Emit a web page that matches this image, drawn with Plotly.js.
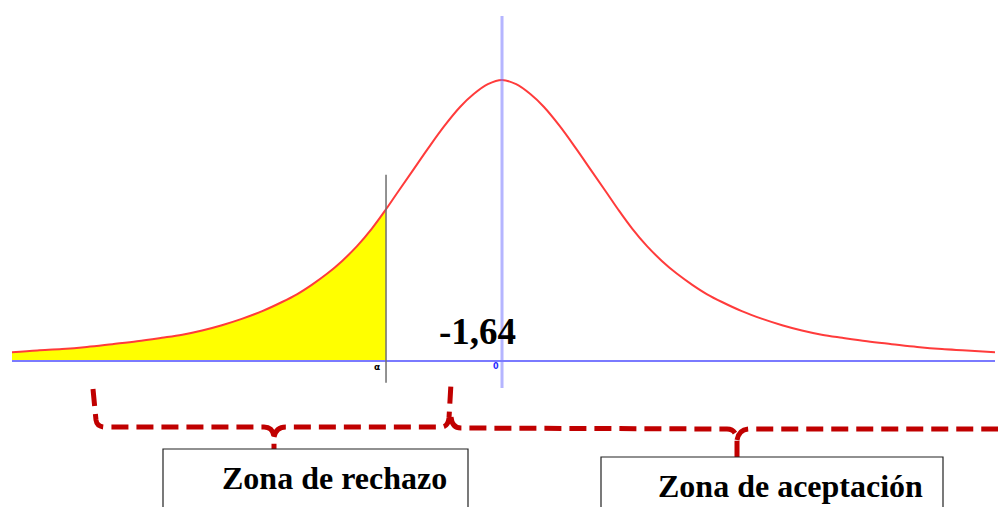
<!DOCTYPE html>
<html>
<head>
<meta charset="utf-8">
<script src="https://cdn.plot.ly/plotly-3.0.1.min.js"></script>
<style>
  html, body { margin: 0; padding: 0; background: #fff; }
  #plot { width: 998px; height: 507px; }
</style>
</head>
<body>
<div id="plot"></div>
<script>
// curve (z units, density scaled so the peak is 0.4)
var zVals = [-6.93, -6.57, -6.22, -5.87, -5.51, -5.16, -4.81, -4.52, -4.24, -3.96, -3.68,
  -3.39, -3.11, -2.9, -2.69, -2.47, -2.26, -2.05, -1.84, -1.64, -1.47, -1.27, -1.05,
  -0.82, -0.59, -0.4, -0.2, 0, 0.2, 0.4, 0.59, 0.82, 1.05, 1.27, 1.47, 1.64, 1.84,
  2.05, 2.26, 2.47, 2.69, 2.9, 3.11, 3.39, 3.68, 3.96, 4.24, 4.52, 4.81, 5.16, 5.51,
  5.87, 6.22, 6.57, 6.97];
var densVals = [0.0124, 0.015, 0.017, 0.02, 0.024, 0.028, 0.033, 0.0375, 0.0435, 0.051, 0.06,
  0.071, 0.084, 0.095, 0.1085, 0.1245, 0.1425, 0.1635, 0.1885, 0.216, 0.241, 0.27, 0.302,
  0.334, 0.362, 0.38, 0.394, 0.4, 0.394, 0.38, 0.362, 0.334, 0.302, 0.27, 0.241, 0.216, 0.1885,
  0.1635, 0.1425, 0.1245, 0.1085, 0.095, 0.084, 0.071, 0.06, 0.051, 0.0435, 0.0375, 0.033, 0.028, 0.024,
  0.02, 0.017, 0.015, 0.0124];

var critical = -1.64;
var criticalLabel = "-1,64";
var zoneLabels = ["Zona de rechazo", "Zona de aceptación"];

// rejection region = points left of the critical value
var rejX = [], rejY = [];
for (var i = 0; i < zVals.length; i++) {
  if (zVals[i] <= critical) { rejX.push(zVals[i]); rejY.push(densVals[i]); }
}

var W = 998, H = 507;
var mL = 12, mR = 3, mT = 16, mB = 119;
var pw = W - mL - mR, ph = H - mT - mB;
function px(x) { return (x - mL) / pw; }
function py(y) { return 1 - (y - mT) / ph; }
function path(pts) {
  return pts.map(function (p) {
    var s = p[0];
    for (var k = 1; k < p.length; k += 2) s += " " + px(p[k]).toFixed(5) + "," + py(p[k + 1]).toFixed(5);
    return s;
  }).join(" ");
}

var fillTrace = {
  x: rejX, y: rejY, type: "scatter", mode: "lines",
  line: { shape: "spline", width: 0, color: "#ffff00" },
  fill: "tozeroy", fillcolor: "#ffff00", hoverinfo: "skip"
};
var curve = {
  x: zVals, y: densVals, type: "scatter", mode: "lines",
  line: { shape: "spline", width: 2, color: "#ff3b3b" }
};

var red = "#c00000";
var dashed = { color: red, width: 5, dash: "17px,8px" };

var layout = {
  width: W, height: H,
  margin: { l: mL, r: mR, t: mT, b: mB, pad: 0 },
  paper_bgcolor: "#fff", plot_bgcolor: "#fff",
  showlegend: false,
  xaxis: { range: [-6.928, 6.97], showgrid: false, zeroline: false, showticklabels: false, showline: false, ticks: "" },
  yaxis: { range: [-0.0384, 0.4911], showgrid: false, zeroline: false, showticklabels: false, showline: false, ticks: "" },
  shapes: [
    // horizontal axis
    { type: "line", xref: "paper", yref: "y", x0: 0, x1: 1, y0: 0, y1: 0,
      line: { color: "#7a7aff", width: 2 }, layer: "above" },
    // vertical axis at 0
    { type: "line", xref: "x", yref: "paper", x0: 0, x1: 0, y0: 0, y1: 1,
      line: { color: "rgba(120,120,255,0.55)", width: 3 }, layer: "above" },
    // critical value line
    { type: "line", xref: "x", yref: "y", x0: critical, x1: critical, y0: -0.031, y1: 0.265,
      line: { color: "#6e6e6e", width: 1.5 }, layer: "above" },
    // brace for rejection zone
    { type: "path", xref: "paper", yref: "paper", line: dashed,
      path: path([["M", 93, 389], ["L", 96, 420], ["Q", 97, 427, 105, 427], ["L", 264, 427],
        ["Q", 273, 427, 274, 437], ["L", 274, 449]]) },
    { type: "path", xref: "paper", yref: "paper", line: dashed,
      path: path([["M", 274, 437], ["Q", 276, 427, 286, 427], ["L", 441, 427],
        ["Q", 448, 427, 449, 418], ["L", 451, 383]]) },
    // brace for acceptance zone
    { type: "path", xref: "paper", yref: "paper", line: dashed,
      path: path([["M", 451, 417], ["Q", 452, 428, 461, 428], ["L", 727, 429],
        ["Q", 736, 429, 737, 440], ["L", 737, 457]]) },
    { type: "path", xref: "paper", yref: "paper", line: dashed,
      path: path([["M", 737, 440], ["Q", 739, 429, 750, 429], ["L", 1000, 429]]) },
    // boxes
    { type: "rect", xref: "paper", yref: "paper", x0: px(163), x1: px(468), y0: py(449), y1: py(512),
      line: { color: "#222", width: 1.2 }, fillcolor: "rgba(0,0,0,0)" },
    { type: "rect", xref: "paper", yref: "paper", x0: px(601), x1: px(943), y0: py(457), y1: py(512),
      line: { color: "#222", width: 1.2 }, fillcolor: "rgba(0,0,0,0)" }
  ],
  annotations: [
    { x: critical + 1.30, y: py(331), xref: "x", yref: "paper", text: "<b>" + criticalLabel + "</b>",
      showarrow: false, xanchor: "center", yanchor: "middle",
      font: { family: "Liberation Serif, Times New Roman, serif", size: 37, color: "#000" } },
    { x: 0, y: py(373), xref: "x", yref: "paper", text: "<b>0</b>", xshift: -6,
      showarrow: false, font: { family: "DejaVu Sans, sans-serif", size: 8, color: "#2a2aff" } },
    { x: critical, y: py(374), xref: "x", yref: "paper", text: "<b>α</b>", xshift: -9,
      showarrow: false, font: { family: "DejaVu Sans, sans-serif", size: 9, color: "#000" } },
    { x: px(334), y: py(478), xref: "paper", yref: "paper", text: "<b>" + zoneLabels[0] + "</b>",
      showarrow: false, xanchor: "center", yanchor: "middle",
      font: { family: "Liberation Serif, Times New Roman, serif", size: 32, color: "#000" } },
    { x: px(790), y: py(486), xref: "paper", yref: "paper", text: "<b>" + zoneLabels[1] + "</b>",
      showarrow: false, xanchor: "center", yanchor: "middle",
      font: { family: "Liberation Serif, Times New Roman, serif", size: 32, color: "#000" } }
  ]
};

Plotly.newPlot("plot", [fillTrace, curve], layout, { displayModeBar: false, staticPlot: true });
</script>
</body>
</html>
